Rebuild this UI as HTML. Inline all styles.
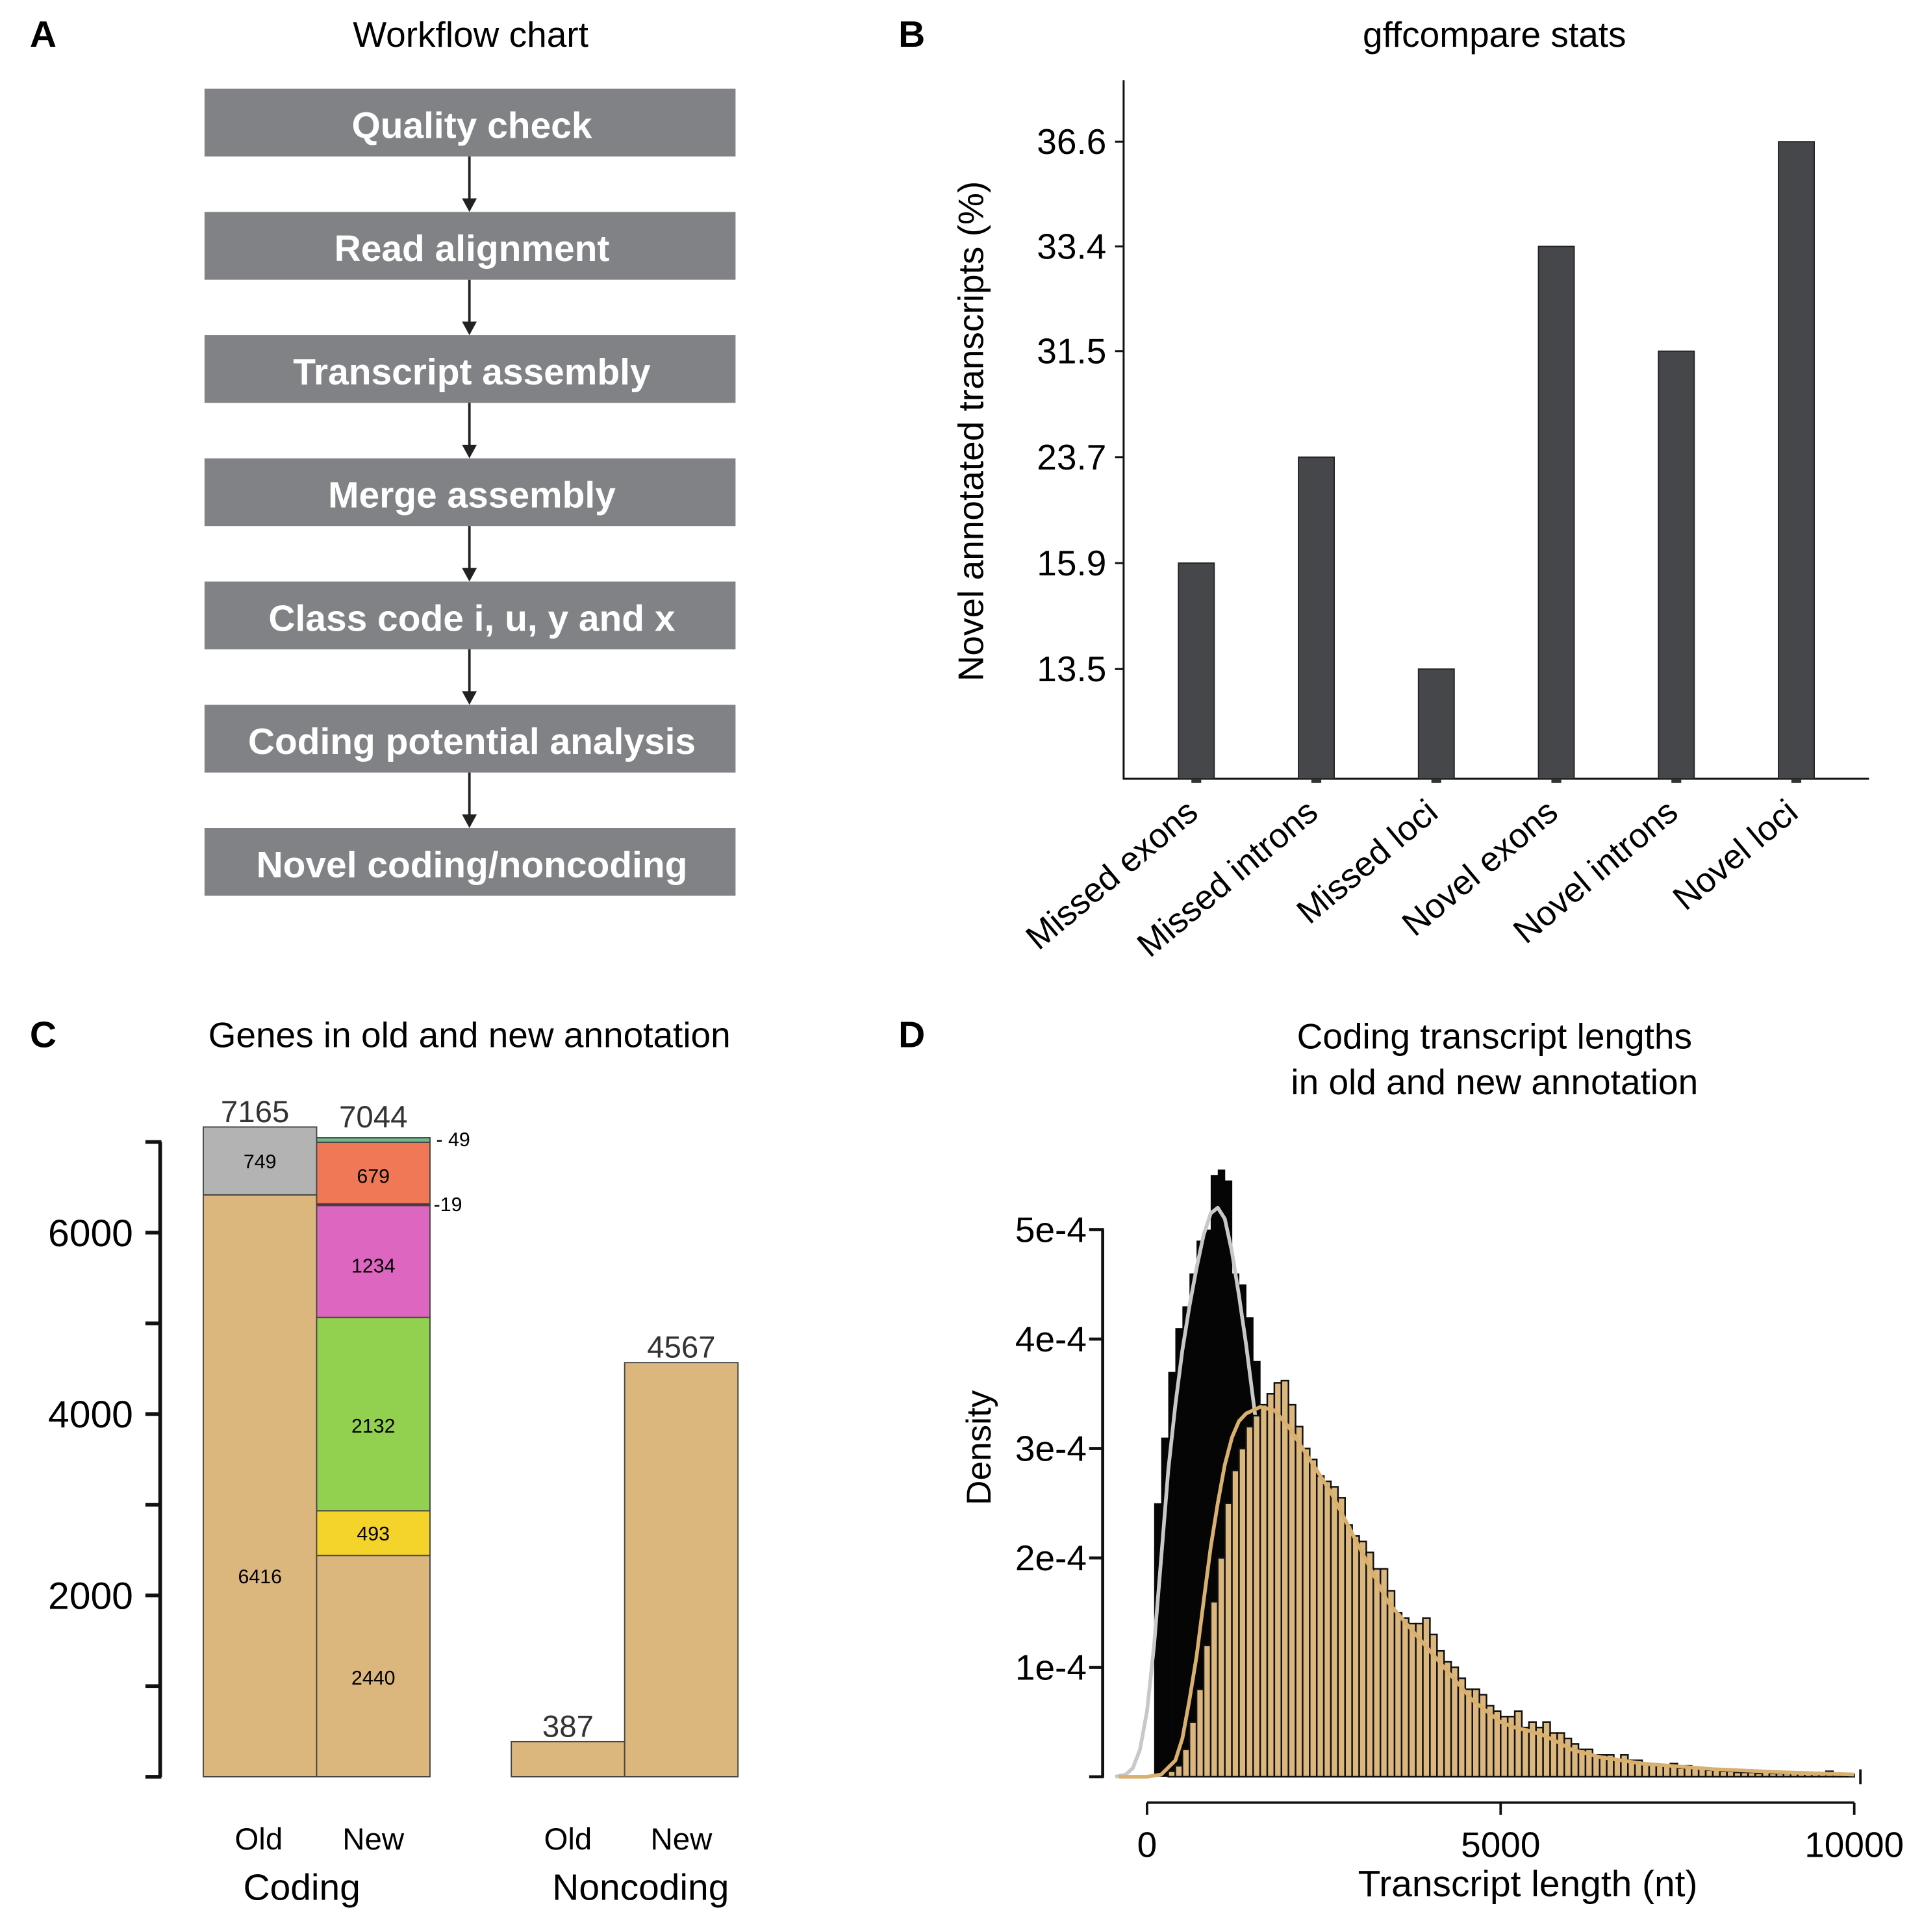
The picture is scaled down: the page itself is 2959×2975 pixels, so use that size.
<!DOCTYPE html>
<html><head><meta charset="utf-8"><style>
html,body{margin:0;padding:0;background:#fff;}
svg{display:block;font-family:"Liberation Sans",Arial,sans-serif;}
</style></head><body>
<svg id="fig" width="2959" height="2975" viewBox="0 0 1560 1568" preserveAspectRatio="none" xmlns="http://www.w3.org/2000/svg">
<g id="panelA">
<text x="35" y="38" font-size="30" font-weight="bold" text-anchor="middle">A</text>
<text x="382" y="38" font-size="29" text-anchor="middle">Workflow chart</text>
</g>
<g id="panelB">
<text x="740" y="38" font-size="30" font-weight="bold" text-anchor="middle">B</text>
<text x="1213" y="38" font-size="29" text-anchor="middle">gffcompare stats</text>
<text transform="translate(798,350) rotate(-90)" font-size="29" text-anchor="middle">Novel annotated transcripts (%)</text>
</g>
<g id="panelC">
<text x="35" y="850" font-size="30" font-weight="bold" text-anchor="middle">C</text>
<text x="381" y="850" font-size="29" text-anchor="middle">Genes in old and new annotation</text>
<text x="210" y="1501" font-size="25" text-anchor="middle">Old</text>
<text x="303" y="1501" font-size="25" text-anchor="middle">New</text>
<text x="461" y="1501" font-size="25" text-anchor="middle">Old</text>
<text x="553" y="1501" font-size="25" text-anchor="middle">New</text>
<text x="245" y="1542" font-size="30" text-anchor="middle">Coding</text>
<text x="520" y="1542" font-size="30" text-anchor="middle">Noncoding</text>
</g>
<g id="panelD">
<text x="740" y="850" font-size="30" font-weight="bold" text-anchor="middle">D</text>
<text x="1213" y="851" font-size="29" text-anchor="middle">Coding transcript lengths</text>
<text x="1213" y="888" font-size="29" text-anchor="middle">in old and new annotation</text>
<text transform="translate(804,1175) rotate(-90)" font-size="28" text-anchor="middle">Density</text>
<text x="1240" y="1539" font-size="30" text-anchor="middle">Transcript length (nt)</text>
</g>
</svg>
<script>
// ---------- Panel A data ----------
const steps = ["Quality check","Read alignment","Transcript assembly","Merge assembly","Class code i, u, y and x","Coding potential analysis","Novel coding/noncoding"];
// ---------- Panel B data ----------
const bCategories = ["Missed exons","Missed introns","Missed loci","Novel exons","Novel introns","Novel loci"];
const bValues = [15.9, 23.7, 13.5, 33.4, 31.5, 36.6];
const bTicks = [13.5, 15.9, 23.7, 31.5, 33.4, 36.6];
// ---------- Panel C data ----------
const cBarLabels = ["Coding old","Coding new","Noncoding old","Noncoding new"];
const cOldCoding = [6416, 749];
const cNewCoding = [2440, 493, 2132, 1234, 19, 679, 49];
const cNoncoding = [387, 4567];
const cTotals = [7165, 7044, 387, 4567];
const cTicks = [2000, 4000, 6000];
// ---------- Panel D data ----------
const dTicksY = [1, 2, 3, 4, 5]; // units of 1e-4
const dTickLabelsY = ["1e-4","2e-4","3e-4","4e-4","5e-4"];
const dTicksX = [0, 5000, 10000];
const binWidth = 100;
const oldHist = [0,2.5,3.1,3.7,4.1,4.3,4.6,4.9,5.0,5.5,5.55,5.45,4.6,4.5,4.2,3.8,3.4,3.0,2.6,2.2,1.9,1.5,1.2,1.0,0.8,0.6,0.5,0.4,0.3,0.25,0.2,0.15,0.12,0.1,0.08,0.06,0.05,0.04,0.03,0.02];
const newHist = [0,0,0,0.05,0.1,0.25,0.5,0.8,1.2,1.6,2.0,2.5,2.8,3.0,3.2,3.3,3.4,3.5,3.6,3.62,3.4,3.2,3.0,2.9,2.75,2.7,2.65,2.55,2.3,2.2,2.15,2.05,1.9,1.9,1.7,1.5,1.45,1.4,1.4,1.45,1.3,1.15,1.05,1.0,0.9,0.8,0.8,0.75,0.65,0.6,0.55,0.55,0.6,0.45,0.5,0.45,0.5,0.4,0.4,0.35,0.3,0.25,0.25,0.2,0.2,0.2,0.15,0.2,0.15,0.15,0.12,0.12,0.1,0.1,0.12,0.08,0.1,0.08,0.08,0.06,0.06,0.05,0.05,0.04,0.04,0.04,0.03,0.04,0.03,0.03,0.03,0.03,0.03,0.03,0.04,0.03,0.05,0.03,0.02,0.02];
const oldCurveX = [-450,-300,-200,-100,0,100,200,300,400,500,600,700,800,900,1000,1100,1200,1300,1400,1500,1600,1700,1800,2000,2200,2400,2600,2800,3000,3500];
const oldCurveY = [0,0.02,0.08,0.25,0.6,1.2,2.0,2.8,3.4,3.9,4.3,4.65,4.95,5.15,5.2,5.1,4.8,4.4,3.95,3.45,2.95,2.5,2.1,1.45,1.0,0.7,0.45,0.3,0.2,0.05];
const newCurveX = [-400,0,200,400,500,600,700,800,900,1000,1100,1200,1300,1400,1600,1800,2000,2200,2400,2600,2800,3000,3200,3400,3600,3800,4000,4200,4400,4600,4800,5000,5200,5400,5600,5800,6000,6400,7000,8000,9000,10000];
const newCurveY = [0,0,0.02,0.15,0.35,0.7,1.1,1.6,2.1,2.5,2.85,3.1,3.25,3.32,3.38,3.35,3.2,3.0,2.8,2.6,2.35,2.1,1.85,1.6,1.45,1.3,1.15,1.0,0.85,0.7,0.6,0.5,0.45,0.42,0.38,0.32,0.25,0.18,0.12,0.07,0.04,0.02];

const NS="http://www.w3.org/2000/svg";
const svg=document.getElementById('fig');
function mk(tag,attrs,parent,text){const e=document.createElementNS(NS,tag);for(const k in attrs)e.setAttribute(k,attrs[k]);if(text!==undefined)e.textContent=text;(parent||svg).appendChild(e);return e;}
const gA=document.getElementById('panelA'),gB=document.getElementById('panelB'),gC=document.getElementById('panelC'),gD=document.getElementById('panelD');

// ---- Panel A ----
steps.forEach((s,i)=>{
  const y=72+i*100;
  const r=mk('rect',{x:166,y:y,width:431,height:55,fill:'#808285'},gA);
  
  
  const t=mk('text',{x:383,y:y+40,'font-size':30,'font-weight':'bold',fill:'#fff','text-anchor':'middle'},gA,s);
  
  
  if(i<steps.length-1){
    const l=mk('line',{x1:381,y1:y+55,x2:381,y2:y+92,stroke:'#222','stroke-width':2},gA);
    
    
    const p=mk('polygon',{points:`375,${y+89} 387,${y+89} 381,${y+100}`,fill:'#222'},gA);
    
    
  }
});

// ---- Panel B ----
const bDom=[11.1,13.5,15.9,23.7,31.5,33.4,36.6], bRng=[632,543,457,371,285,200,115];
function yB(v){for(let i=0;i<bDom.length-1;i++){if(v<=bDom[i+1]||i===bDom.length-2){const f=(v-bDom[i])/(bDom[i+1]-bDom[i]);return bRng[i]+f*(bRng[i+1]-bRng[i]);}}}
function xB(i){return 971+i*97.4;}
let ax=mk('path',{d:'M912,65 L912,632 L1517,632',fill:'none',stroke:'#111','stroke-width':1.6},gB);


bTicks.forEach(v=>{const y=yB(v);
  const tk=mk('line',{x1:905,x2:912,y1:y,y2:y,stroke:'#111','stroke-width':1.6},gB);
  
  
  const t=mk('text',{x:898,y:y+10,'font-size':29,'text-anchor':'end'},gB,v.toFixed(1));
  
  
});
bValues.forEach((v,i)=>{const x=xB(i),y=yB(v);
  const r=mk('rect',{x:x-14.5,y:y,width:29,height:632-y,fill:'#45474a',stroke:'#222','stroke-width':1},gB);
  
  
  const tk=mk('line',{x1:x-4,x2:x+4,y1:634,y2:634,stroke:'#333','stroke-width':3},gB);
  
  
  const t=mk('text',{transform:`translate(${x+3},${662}) rotate(-40)`,'font-size':28,'text-anchor':'end'},gB,bCategories[i]);
  
  
});

// ---- Panel C ----
function yC(v){return 1442-v*0.0736;}
let cax=mk('line',{x1:130,x2:130,y1:yC(7000),y2:yC(0),stroke:'#111','stroke-width':3},gC);


for(let v=0;v<=7000;v+=1000){
  const tk=mk('line',{x1:118,x2:131,y1:yC(v),y2:yC(v),stroke:'#111','stroke-width':3},gC);
  
  
}
cTicks.forEach(v=>{const t=mk('text',{x:108,y:yC(v)+11,'font-size':31,'text-anchor':'end'},gC,String(v));
  
  });
const oldColors=['#dbb77e','#b3b3b3'];
const newColors=['#dbb77e','#f4d32a','#92d050','#dd66c0','#5a2030','#f07856','#6dbb8a'];
function stack(vals,cols,x0,w,showLab,nameBase,labOffsets){
  let acc=0;
  vals.forEach((v,i)=>{
    const y1=yC(acc+v),y0=yC(acc);
    const r=mk('rect',{x:x0,y:y1,width:w,height:y0-y1,fill:cols[i],stroke:'#444','stroke-width':1},gC);
    
    
    if(showLab[i]){const t=mk('text',{x:x0+w/2,y:(y0+y1)/2+6+(labOffsets?labOffsets[i]:0),'font-size':16,'text-anchor':'middle'},gC,String(v));
      
      }
    acc+=v;
  });
  return acc;
}
stack(cOldCoding,oldColors,165,92,[true,true],'coding-old',[73,0]);
stack(cNewCoding,newColors,257,92,[true,true,true,true,false,true,false],'coding-new',[9,0,9,3,0,2,0]);
let s49=mk('text',{x:354,y:yC(7020)+5,'font-size':16},gC,'- '+cNewCoding[6]);


let s19=mk('text',{x:352,y:yC(cNewCoding.slice(0,5).reduce((a,b)=>a+b,0))+6,'font-size':16},gC,'-'+cNewCoding[4]);


cNoncoding.forEach((v,i)=>{const x0=415+i*92;
  const r=mk('rect',{x:x0,y:yC(v),width:92,height:yC(0)-yC(v),fill:'#dbb77e',stroke:'#444','stroke-width':1},gC);
  
  
});
const totX=[207,303,461,553];
const totTop=[cOldCoding[0]+cOldCoding[1],cNewCoding.reduce((a,b)=>a+b,0)+60,cNoncoding[0],cNoncoding[1]];
cTotals.forEach((v,i)=>{const t=mk('text',{x:totX[i],y:yC(totTop[i])-4,'font-size':25,'text-anchor':'middle',fill:'#333'},gC,String(v));
  
  });

// ---- Panel D ----
function xD(v){return 931+v*0.0574;}
function yD(d){return 1442-d*88.8;}
let dax=mk('line',{x1:895,x2:895,y1:yD(5),y2:yD(0),stroke:'#111','stroke-width':2.5},gD);


[0].concat(dTicksY).forEach(v=>{const tk=mk('line',{x1:884,x2:896,y1:yD(v),y2:yD(v),stroke:'#111','stroke-width':2.5},gD);
  
  });
dTicksY.forEach((v,i)=>{const t=mk('text',{x:882,y:yD(v)+10,'font-size':29,'text-anchor':'end'},gD,dTickLabelsY[i]);
  
  });
let xax=mk('line',{x1:xD(0),x2:xD(10000),y1:1463,y2:1463,stroke:'#111','stroke-width':2},gD);


dTicksX.forEach(v=>{
  const tk=mk('line',{x1:xD(v),x2:xD(v),y1:1463,y2:1473,stroke:'#111','stroke-width':2},gD);
  
  
  const t=mk('text',{x:xD(v),y:1507,'font-size':29,'text-anchor':'middle'},gD,String(v));
  
  
});
let rt=mk('line',{x1:1510,x2:1510,y1:1436,y2:1448,stroke:'#111','stroke-width':2},gD);


oldHist.forEach((d,i)=>{if(d<=0)return;
  const x=xD(i*binWidth),w=xD((i+1)*binWidth)-x;
  const r=mk('rect',{x:x,y:yD(d),width:w+0.3,height:yD(0)-yD(d),fill:'#050505'},gD);
  
  
});
function curve(xs,ys,col,name){
  const d=xs.map((x,i)=>(i?'L':'M')+xD(x).toFixed(1)+','+yD(ys[i]).toFixed(1)).join(' ');
  const p=mk('path',{d:d,fill:'none',stroke:col,'stroke-width':3,'stroke-linejoin':'round'},gD);
  
  
}
curve(oldCurveX,oldCurveY,'#c8c8c8','old-density-curve');
newHist.forEach((d,i)=>{if(d<=0)return;
  const x=xD(i*binWidth),w=xD((i+1)*binWidth)-x;
  const r=mk('rect',{x:x,y:yD(d),width:w,height:yD(0)-yD(d),fill:'#dbb77e',stroke:'#111','stroke-width':1.3},gD);
  
  
});
curve(newCurveX,newCurveY,'#d9b06e','new-density-curve');
</script>
</body></html>
